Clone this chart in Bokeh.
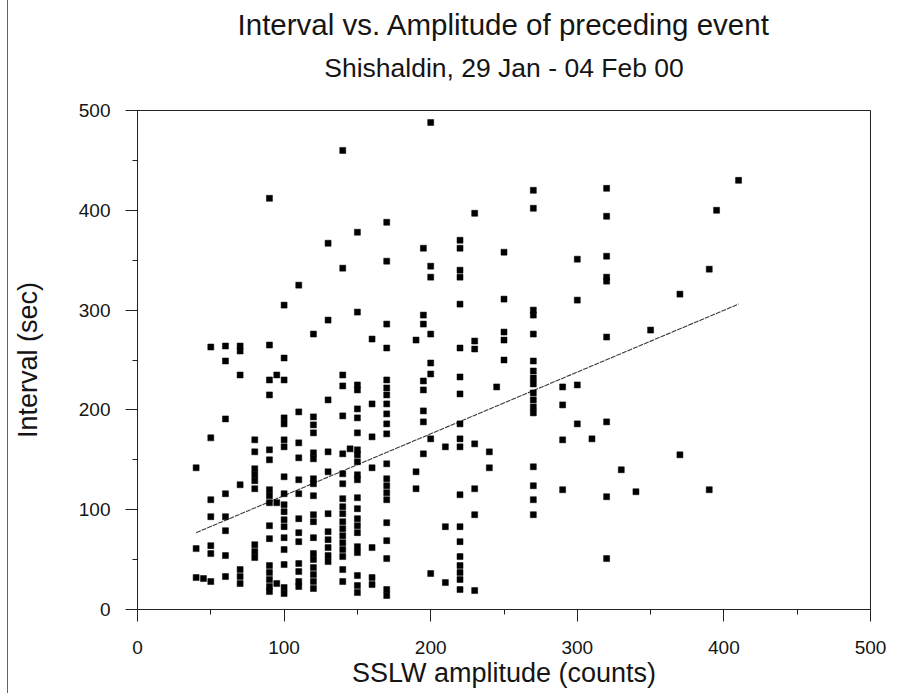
from bokeh.plotting import figure
from bokeh.models import Title, SingleIntervalTicker, Range1d
from bokeh.embed import file_html
from bokeh.resources import INLINE

# ---- data (amplitude column -> intervals) ----
col_amplitude = [40, 45, 50, 60, 70, 80, 90, 95, 100, 110, 120, 130, 140, 145,
                 150, 160, 170, 190, 195, 200, 210, 220, 230, 240, 245, 250,
                 270, 290, 300, 310, 320, 330, 340, 350, 370, 390, 395, 410]
col_intervals = [
    [142, 61, 32],
    [31],
    [263, 172, 110, 93, 64, 56, 28],
    [264, 249, 191, 116, 93, 79, 54, 33],
    [264, 259, 235, 125, 40, 33, 26],
    [170, 158, 141, 135, 129, 121, 65, 58, 52],
    [412, 265, 230, 215, 160, 150, 120, 114, 107, 84, 71, 44, 37, 30, 23, 18],
    [235, 107, 26],
    [305, 252, 230, 192, 186, 170, 163, 133, 116, 105, 98, 90, 83, 72, 60, 45, 22, 16],
    [325, 198, 167, 152, 130, 116, 91, 77, 68, 46, 38, 28, 23],
    [276, 193, 185, 177, 157, 151, 131, 126, 114, 95, 88, 72, 56, 50, 42, 35, 28, 21],
    [367, 290, 210, 158, 138, 96, 78, 70, 62, 54, 48],
    [460, 342, 235, 224, 194, 156, 136, 126, 111, 103, 96, 88, 81, 74, 67, 60, 53, 40, 28],
    [161],
    [378, 298, 225, 220, 201, 192, 177, 160, 155, 148, 135, 130, 112, 101, 91, 84, 77, 63, 57, 34, 24, 17],
    [271, 206, 173, 142, 62, 32, 25],
    [388, 349, 286, 262, 230, 222, 215, 206, 196, 186, 176, 146, 131, 124, 117, 110, 87, 69, 51, 20, 14],
    [270, 138, 121],
    [362, 295, 286, 229, 220, 199, 188, 156],
    [488, 344, 333, 276, 247, 236, 171, 36],
    [163, 83, 27],
    [370, 362, 340, 333, 306, 262, 233, 216, 186, 171, 163, 115, 83, 68, 53, 44, 37, 30, 20],
    [397, 269, 261, 166, 121, 95, 19],
    [158, 142],
    [223],
    [358, 311, 278, 270, 250],
    [420, 402, 300, 295, 276, 249, 239, 232, 226, 217, 210, 203, 197, 143, 124, 110, 95],
    [223, 205, 170, 120],
    [351, 310, 225, 186],
    [171],
    [422, 394, 354, 333, 329, 273, 188, 113, 51],
    [140],
    [118],
    [280],
    [316, 155],
    [341, 120],
    [400],
    [430],
]
trend_amplitude = [40, 410]
trend_interval = [77, 306]

title_text = "Interval vs. Amplitude of preceding event"
subtitle_text = "Shishaldin, 29 Jan - 04 Feb 00"
x_label = "SSLW amplitude (counts)"
y_label = "Interval (sec)"

amplitude = []
interval = []
for a, ys in zip(col_amplitude, col_intervals):
    for y in ys:
        amplitude.append(a)
        interval.append(y)

FONT = "Liberation Sans"
INK = "#151515"

p = figure(width=890, height=693, output_backend="svg", toolbar_location=None,
           x_range=Range1d(0, 500), y_range=Range1d(0, 500),
           min_border_left=129, min_border_right=28,
           min_border_top=0, min_border_bottom=84)
p.styles = {"margin-left": "7px", "border-left": "1px solid #a8388f"}
p.background_fill_color = "white"
p.border_fill_color = "white"
p.outline_line_color = "#222222"
p.outline_line_width = 1
p.xgrid.visible = False
p.ygrid.visible = False

p.xaxis.ticker = SingleIntervalTicker(interval=100, num_minor_ticks=2)
p.yaxis.ticker = SingleIntervalTicker(interval=100, num_minor_ticks=2)
for ax in (p.xaxis, p.yaxis):
    ax.axis_line_color = "#222222"
    ax.major_tick_line_color = "#222222"
    ax.minor_tick_line_color = "#222222"
    ax.major_tick_out = 12
    ax.major_tick_in = 0
    ax.minor_tick_out = 5
    ax.minor_tick_in = 0
    ax.major_label_text_font = FONT
    ax.major_label_text_font_size = "19px"
    ax.major_label_text_color = INK
    ax.axis_label_text_font = FONT
    ax.axis_label_text_font_style = "normal"
    ax.axis_label_text_color = INK
    ax.axis_label_text_font_size = "27px"

p.xaxis.axis_label = x_label
p.xaxis.major_label_standoff = 19
p.xaxis.axis_label_standoff = 1

p.yaxis.axis_label = y_label
p.yaxis.major_label_standoff = 15
p.yaxis.axis_label_standoff = 33

p.line(trend_amplitude, trend_interval, line_color="#3a3a3a", line_width=1.1,
       line_dash="5 1")
p.scatter(amplitude, interval, marker="square", size=6,
          fill_color="black", line_color="black", line_width=0.5)

# "above" panels, nearest to the frame first: a blank spacer, subtitle, title
p.add_layout(Title(text=" ", align="center", vertical_align="bottom",
                   standoff=18.5, text_font=FONT, text_font_size="1px",
                   text_color="white"), "above")
p.add_layout(Title(text=subtitle_text, align="center", vertical_align="bottom",
                   standoff=10.2, text_font=FONT, text_font_size="26.5px",
                   text_font_style="normal", text_color=INK), "above")
p.add_layout(Title(text=title_text, align="center", vertical_align="bottom",
                   standoff=10.6, text_font=FONT, text_font_size="29.5px",
                   text_font_style="normal", text_color=INK), "above")

open("out.html", "w").write(file_html(p, INLINE))
